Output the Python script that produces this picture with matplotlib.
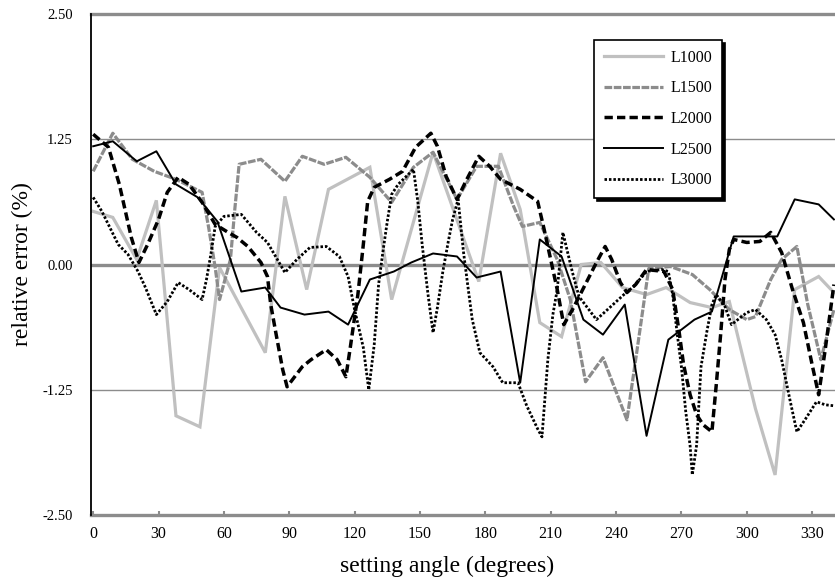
import matplotlib
matplotlib.use("Agg")
import matplotlib.pyplot as plt

plt.rcParams['font.family'] = ['Liberation Serif', 'DejaVu Serif']

# ---- data ----
x1000 = [0, 9, 20, 29, 38, 49, 58, 79, 88, 98, 108, 127, 137, 156, 177, 187, 196, 205, 215, 224,
         233, 243, 254, 263, 274, 284, 292, 304, 313, 322, 333, 340]
y1000 = [0.53, 0.47, 0.05, 0.64, -1.51, -1.62, -0.03, -0.88, 0.68, -0.25, 0.75, 0.97, -0.35, 1.12,
         -0.17, 1.11, 0.55, -0.58, -0.72, 0.0, 0.02, -0.23, -0.3, -0.23, -0.38, -0.43, -0.37, -1.44,
         -2.1, -0.25, -0.12, -0.28]

x1500 = [0, 9, 18, 28, 38, 50, 53, 56, 58, 63, 65, 67, 77, 88, 96, 106, 116, 127, 137, 147, 156,
         167, 176, 186, 193, 197, 205, 213, 219, 226, 234, 245, 250, 255, 265, 275, 283, 292, 300,
         304, 311, 316, 323, 328, 334, 340]
y1500 = [0.93, 1.31, 1.05, 0.93, 0.85, 0.72, 0.37, -0.03, -0.35, 0.05, 0.55, 1.0, 1.05, 0.83, 1.08,
         1.0, 1.07, 0.87, 0.62, 0.97, 1.12, 0.65, 0.98, 0.98, 0.58, 0.38, 0.42, 0.05, -0.35, -1.17,
         -0.93, -1.55, -0.8, -0.04, -0.02, -0.1, -0.25, -0.45, -0.55, -0.52, -0.15, 0.05, 0.18,
         -0.4, -0.95, -0.45]

x2000 = [0, 7, 12, 17.5, 21, 25, 30, 34, 39, 44, 50, 56, 62, 66, 71, 77, 80, 81.5, 84, 87, 89, 96,
         100, 107, 112, 116, 118, 121.5, 124, 126, 129, 136, 142, 148, 155, 158, 162, 167, 171.5,
         177, 182, 187, 196, 204, 207, 210, 213, 216, 220, 224, 231, 235, 238, 242, 245, 249, 254,
         262, 266, 269, 271, 274, 277, 280, 284, 286, 288, 290, 292, 294, 300, 306, 311, 316, 321,
         326, 330, 333, 336, 340]
y2000 = [1.3, 1.17, 0.8, 0.27, 0.02, 0.2, 0.45, 0.72, 0.87, 0.8, 0.62, 0.4, 0.32, 0.27, 0.18, 0.02,
         -0.12, -0.4, -0.7, -1.05, -1.22, -1.02, -0.95, -0.85, -0.95, -1.12, -0.83, -0.3, 0.2, 0.63,
         0.77, 0.85, 0.93, 1.17, 1.31, 1.18, 0.88, 0.65, 0.85, 1.08, 0.98, 0.85, 0.75, 0.63, 0.35,
         0.05, -0.25, -0.6, -0.45, -0.28, 0.02, 0.18, 0.05, -0.18, -0.28, -0.2, -0.05, -0.07, -0.25,
         -0.68, -1.0, -1.3, -1.5, -1.6, -1.67, -1.2, -0.7, -0.15, 0.15, 0.25, 0.22, 0.23, 0.32, 0.12,
         -0.25, -0.58, -1.0, -1.3, -0.85, -0.2]

x2500 = [0, 9, 20, 29, 38, 48, 57, 68, 79, 86, 97, 108, 117, 127, 138, 146, 156, 167, 176, 187,
         196, 205, 215, 225, 234, 244, 254, 264, 276, 284, 294, 314, 322, 333, 340]
y2500 = [1.18, 1.23, 1.03, 1.13, 0.80, 0.67, 0.43, -0.27, -0.23, -0.43, -0.5, -0.47, -0.6, -0.15,
         -0.07, 0.02, 0.11, 0.08, -0.13, -0.07, -1.18, 0.25, 0.08, -0.55, -0.7, -0.4, -1.71, -0.75,
         -0.55, -0.47, 0.28, 0.28, 0.65, 0.6, 0.45]

x3000 = [0, 4, 11.5, 16, 20.6, 24, 29, 34, 39, 44, 50, 52, 54, 56, 60, 68, 75, 80, 84, 88, 93.5,
         99.5, 107, 113, 117, 120, 124, 126.5, 129, 131, 133, 135, 137, 140, 147, 149, 151, 153.7,
         156, 158, 160.5, 163, 165, 167.5, 170, 172, 174, 177.5, 183.5, 188, 195, 199, 204, 206,
         208.7, 211, 213, 215.6, 218, 220, 223, 231, 237.6, 243.6, 248, 254, 261, 264, 266, 268, 270,
         272, 274, 275, 277, 278, 279, 281.6, 284, 286, 290, 293, 300, 304, 309, 313, 316, 320, 323,
         327, 332, 336, 340]
y3000 = [0.67, 0.53, 0.2, 0.1, -0.07, -0.23, -0.5, -0.37, -0.18, -0.25, -0.35, -0.15, 0.1, 0.38,
         0.48, 0.5, 0.32, 0.22, 0.07, -0.08, 0.05, 0.17, 0.18, 0.08, -0.12, -0.45, -0.83, -1.25, -0.8,
         -0.2, 0.13, 0.43, 0.7, 0.8, 0.95, 0.63, 0.2, -0.3, -0.68, -0.43, -0.07, 0.23, 0.45, 0.65,
         0.12, -0.22, -0.55, -0.88, -1.02, -1.18, -1.18, -1.41, -1.64, -1.72, -0.95, -0.5, -0.25,
         0.32, 0.1, -0.08, -0.32, -0.55, -0.42, -0.3, -0.22, -0.07, -0.05, -0.07, -0.3, -0.68, -1.02,
         -1.47, -1.81, -2.1, -1.8, -1.4, -1.02, -0.68, -0.4, -0.3, -0.42, -0.6, -0.48, -0.45, -0.55,
         -0.7, -0.95, -1.37, -1.67, -1.54, -1.37, -1.4, -1.41]

labels = ['L1000', 'L1500', 'L2000', 'L2500', 'L3000']
xticks = [0, 30, 60, 90, 120, 150, 180, 210, 240, 270, 300, 330]
yticks = [-2.50, -1.25, 0.00, 1.25, 2.50]

# ---- figure ----
fig = plt.figure(figsize=(8.35, 5.88), dpi=100)
ax = fig.add_axes([91 / 835, 1 - 515 / 588, 1 - 91 / 835, (515 - 14) / 588])

grid_c = '#8c8c8c'
ax.axhline(1.25, color=grid_c, lw=1.0, zorder=1)
ax.axhline(-1.25, color=grid_c, lw=1.0, zorder=1)
ax.axhline(0.0, color=grid_c, lw=2.4, zorder=1)

ax.plot(x1000, y1000, color='#c0c0c0', lw=2.3, solid_joinstyle='miter', label=labels[0], zorder=3)
ax.plot(x1500, y1500, color='#8c8c8c', lw=2.3, dashes=(2.4, 0.5), label=labels[1], zorder=3)
ax.plot(x2000, y2000, color='black', lw=2.5, dashes=(2.4, 1.2), label=labels[2], zorder=4)
ax.plot(x2500, y2500, color='black', lw=1.4, label=labels[3], zorder=5)
ax.plot(x3000, y3000, color='black', lw=2.0, dashes=(0.9, 0.7), label=labels[4], zorder=4)

ax.set_xlim(-1, 340.5)
ax.set_ylim(-2.5, 2.5)
ax.set_xticks(xticks)
ax.set_xticklabels([str(t) for t in xticks])
ax.set_yticks(yticks)
ax.set_yticklabels(['%.2f' % t for t in yticks])

for s in ['top', 'bottom']:
    ax.spines[s].set_color(grid_c)
    ax.spines[s].set_linewidth(2.4)
ax.spines['right'].set_visible(False)
ax.spines['left'].set_color('black')
ax.spines['left'].set_linewidth(1.3)
ax.spines['left'].set_zorder(6)

ax.tick_params(axis='y', length=0, pad=13, labelsize=10.5)
ax.tick_params(axis='x', direction='in', length=3, width=1.5, color=grid_c, pad=8, labelsize=11.5)

ax.set_xlabel('setting angle (degrees)', fontsize=17)
ax.xaxis.set_label_coords(0.478, -0.082)
ax.set_ylabel('relative error (%)', fontsize=17)
ax.yaxis.set_label_coords(-0.078, 0.5)

leg = ax.legend(loc='upper left', bbox_to_anchor=(0.676, 0.948), borderaxespad=0,
                fontsize=11.5, handlelength=3.75, handletextpad=0.45, labelspacing=0.92,
                borderpad=0.6, fancybox=False, shadow={'color': 'black', 'alpha': 1.0},
                framealpha=1.0, edgecolor='black')
leg.get_frame().set_linewidth(1.2)
leg.set_zorder(10)

fig.savefig('out.png', dpi=100)
